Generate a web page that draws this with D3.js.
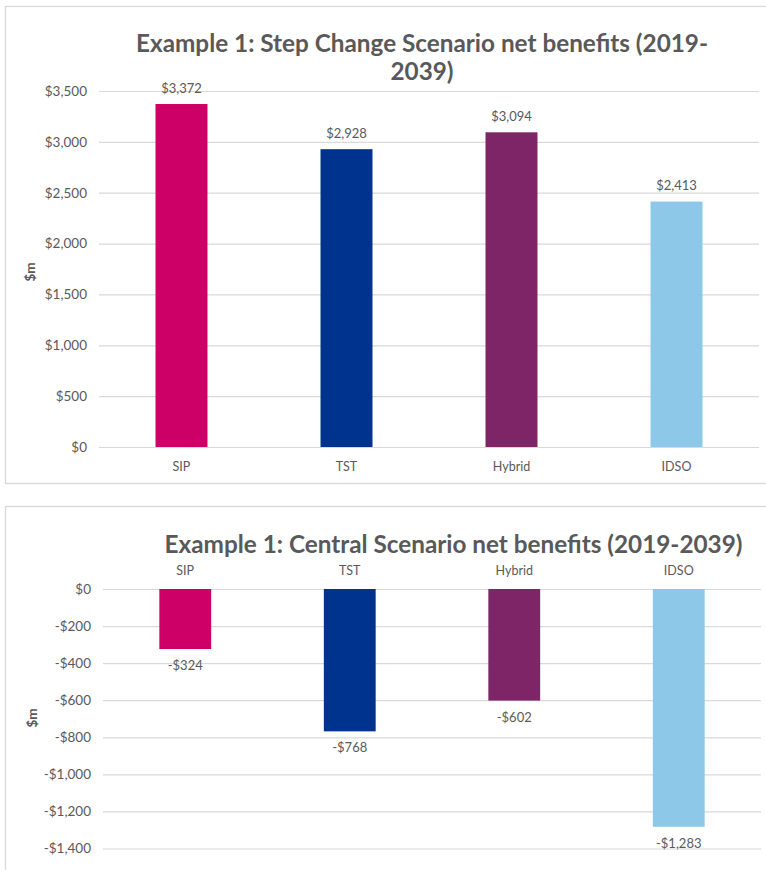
<!DOCTYPE html>
<html><head><meta charset="utf-8">
<script src="https://cdn.jsdelivr.net/npm/d3@7"></script>
<style>
body{margin:0;background:#fff;}
text{font-family:Lato,"Open Sans",sans-serif;fill:#595959;}
</style></head>
<body><svg id="c" width="766" height="870"></svg>
<script>
const categories = ["SIP","TST","Hybrid","IDSO"];
const colors = ["#CC0066","#00338D","#7D2567","#8DC8E8"];
const stepValues = [3372, 2928, 3094, 2413];
const centralValues = [-324, -768, -602, -1283];
const stepTicks = [0,500,1000,1500,2000,2500,3000,3500];
const centralTicks = [0,-200,-400,-600,-800,-1000,-1200,-1400];
const stepTitle = ["Example 1: Step Change Scenario net benefits (2019-","2039)"];
const centralTitle = ["Example 1: Central Scenario net benefits (2019-2039)"];

const svg = d3.select("#c");
svg.append("rect").attr("width",766).attr("height",870).attr("fill","#fff");
const fmt = v => (v<0?"-":"") + "$" + d3.format(",")(Math.abs(v));

function panel(o){
  const g = svg.append("g");
  g.append("rect").attr("x",o.box[0]+0.5).attr("y",o.box[1]+0.5).attr("width",o.box[2]).attr("height",o.box[3])
    .attr("fill","none").attr("stroke","#d9d9d9").attr("stroke-width",1.3);
  const x = d3.scaleBand().domain(categories).range([o.x0,o.x1]).paddingInner(0.685).paddingOuter(0.3425);
  const y = d3.scaleLinear().domain(o.domain).range(o.yRange);
  const ax = g.append("g").attr("transform",`translate(${o.x0},0)`)
    .call(d3.axisLeft(y).tickValues(o.ticks).tickSize(-(o.x1-o.x0)).tickPadding(12).tickFormat(fmt));
  ax.select(".domain").remove();
  ax.selectAll(".tick line").attr("stroke","#d9d9d9").attr("stroke-width",1.2);
  ax.selectAll(".tick text").attr("font-size",13.5).attr("fill","#595959").style("font-family","Lato,sans-serif");
  g.selectAll(".bar").data(o.values).join("rect")
    .attr("x",(d,i)=>x(categories[i])).attr("width",x.bandwidth())
    .attr("y",d=>y(Math.max(0,d))).attr("height",d=>Math.abs(y(d)-y(0)))
    .attr("fill",(d,i)=>colors[i]);
  g.selectAll(".vl").data(o.values).join("text")
    .attr("x",(d,i)=>x(categories[i])+x.bandwidth()/2)
    .attr("y",d=> d>=0 ? y(d)-11.5 : y(d)+21)
    .attr("text-anchor","middle").attr("font-size",13).text(fmt);
  g.selectAll(".cl").data(categories).join("text")
    .attr("x",d=>x(d)+x.bandwidth()/2).attr("y",o.catY)
    .attr("text-anchor","middle").attr("font-size",12.5).text(d=>d);
  g.append("text").attr("transform",`translate(${o.ylabX},${o.ylabY}) rotate(-90)`)
    .attr("text-anchor","middle").attr("font-size",13.5).attr("font-weight","bold").text("$m");
  o.title.forEach((t,i)=>{
    g.append("text").attr("x",o.titleX).attr("y",o.titleY+i*28).attr("text-anchor","middle")
      .attr("font-size",24.3).attr("font-weight","bold").text(t);
  });
}

panel({box:[5,6,770,477], x0:99, x1:759, domain:[0,3500], yRange:[447,91], ticks:stepTicks,
  values:stepValues, catY:471, ylabX:35, ylabY:272, title:stepTitle, titleX:422, titleY:52});
panel({box:[5,506,770,380], x0:103, x1:761, domain:[-1400,0], yRange:[848.5,589], ticks:centralTicks,
  values:centralValues, catY:575, ylabX:37, ylabY:718, title:centralTitle, titleX:453.5, titleY:553});
</script></body></html>
